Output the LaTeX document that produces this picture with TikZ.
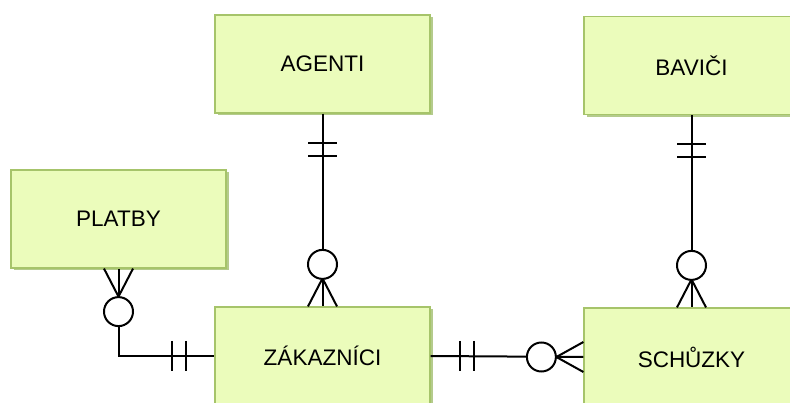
\documentclass[tikz,border=0pt]{standalone}
\usepackage{fontspec}
\setmainfont{Liberation Sans}
\usetikzlibrary{calc,shadows}
\definecolor{boxfill}{HTML}{EBFCBB}
\definecolor{boxline}{HTML}{A6C46A}
\definecolor{boxshadow}{HTML}{B4CB8C}
\begin{document}
\begin{tikzpicture}[x=1pt,y=-1pt,
  entity/.style={draw=boxline, line width=1.2pt, fill=boxfill,
    minimum width=215pt, minimum height=98pt, inner sep=0pt,
    font=\fontsize{22.5}{26}\selectfont,
    drop shadow={shadow xshift=2.5pt, shadow yshift=-2.5pt, fill=boxshadow, opacity=1}},
  rel/.style={line width=2pt, draw=black},
  ring/.style={rel, fill=white},
]
\useasboundingbox (0,0) rectangle (790,403);

\node[entity] (agenti) at (322.5,64) {AGENTI};
\node[entity] (bavici) at (691.5,65.5) {BAVIČI};
\node[entity] (platby) at (118.5,219) {PLATBY};
\node[entity] (zak) at (322.5,356) {ZÁKAZNÍCI};
\node[entity] (schuzky) at (691.5,357) {SCHŮZKY};

% AGENTI -- ZAKAZNICI
\draw[rel] (agenti.south) -- (zak.north);
\draw[rel] ($(agenti.south)+(-14.5,29)$) -- ++(29,0);
\draw[rel] ($(agenti.south)+(-14.5,42)$) -- ++(29,0);
\draw[rel] ($(zak.north)+(-14.5,0)$) -- ($(zak.north)+(0,-28)$) -- ($(zak.north)+(14.5,0)$);
\draw[ring] ($(zak.north)+(0,-42)$) circle[radius=14.5pt];

% BAVICI -- SCHUZKY
\draw[rel] (bavici.south) -- (schuzky.north);
\draw[rel] ($(bavici.south)+(-14.5,29)$) -- ++(29,0);
\draw[rel] ($(bavici.south)+(-14.5,42)$) -- ++(29,0);
\draw[rel] ($(schuzky.north)+(-14.5,0)$) -- ($(schuzky.north)+(0,-28)$) -- ($(schuzky.north)+(14.5,0)$);
\draw[ring] ($(schuzky.north)+(0,-42)$) circle[radius=14.5pt];

% PLATBY -- ZAKAZNICI
\draw[rel] (platby.south) |- (zak.west);
\draw[rel] ($(platby.south)+(-14.5,0)$) -- ($(platby.south)+(0,28)$) -- ($(platby.south)+(14.5,0)$);
\draw[ring] ($(platby.south)+(0,43)$) circle[radius=14.5pt];
\draw[rel] ($(zak.west)+(-42,-15)$) -- ++(0,30);
\draw[rel] ($(zak.west)+(-28,-15)$) -- ++(0,30);

% ZAKAZNICI -- SCHUZKY
\draw[rel] (zak.east) -- (schuzky.west);
\draw[rel] ($(zak.east)+(29,-15)$) -- ++(0,30);
\draw[rel] ($(zak.east)+(43,-15)$) -- ++(0,30);
\draw[rel] ($(schuzky.west)+(0,-15)$) -- ($(schuzky.west)+(-27,0)$) -- ($(schuzky.west)+(0,15)$);
\draw[ring] ($(schuzky.west)+(-42,0)$) circle[radius=14.5pt];
\end{tikzpicture}
\end{document}
